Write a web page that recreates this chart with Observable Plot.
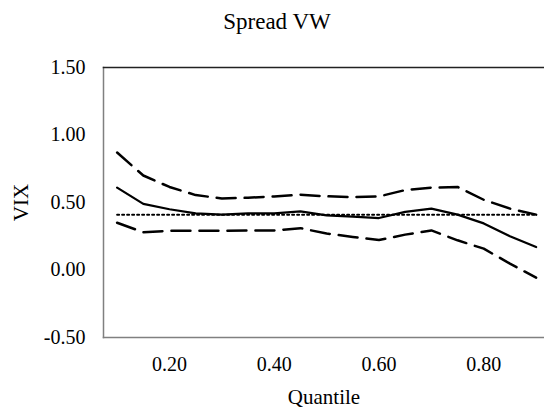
<!DOCTYPE html>
<html>
<head>
<meta charset="utf-8">
<script src="https://cdn.jsdelivr.net/npm/d3@7"></script>
<script src="https://cdn.jsdelivr.net/npm/@observablehq/plot@0.6"></script>
<style>
  html, body { margin: 0; padding: 0; background: #fff; }
  #wrap { width: 544px; height: 411px; overflow: hidden; font-family: "Liberation Serif", "Times New Roman", serif; }
  #title { box-sizing: border-box; height: 40px; padding-top: 10px; padding-left: 10px; line-height: 23px; font-size: 23px; text-align: center; color: #000; }
  svg { display: block; }
  #chart svg text { font-family: "Liberation Serif", "Times New Roman", serif; fill: #000; }
  #chart svg g[aria-label$="tick label"] { font-size: 20px; font-family: "Liberation Serif", "Times New Roman", serif; font-variant: normal; }
</style>
</head>
<body>
<div id="wrap">
  <div id="title">Spread VW</div>
  <div id="chart"></div>
</div>
<script>
const quantiles = [0.10, 0.15, 0.20, 0.25, 0.30, 0.35, 0.40, 0.45, 0.50, 0.55, 0.60, 0.65, 0.70, 0.75, 0.80, 0.85, 0.90];
const estimate  = [0.61, 0.49, 0.45, 0.42, 0.41, 0.42, 0.42, 0.435, 0.405, 0.395, 0.385, 0.43, 0.455, 0.41, 0.345, 0.25, 0.17];
const upperBand = [0.87, 0.70, 0.615, 0.555, 0.53, 0.535, 0.545, 0.557, 0.546, 0.54, 0.545, 0.592, 0.61, 0.615, 0.52, 0.455, 0.41];
const lowerBand = [0.35, 0.28, 0.29, 0.29, 0.29, 0.293, 0.293, 0.31, 0.27, 0.245, 0.222, 0.262, 0.293, 0.22, 0.158, 0.047, -0.057];
const olsValue  = [0.41, 0.41, 0.41, 0.41, 0.41, 0.41, 0.41, 0.41, 0.41, 0.41, 0.41, 0.41, 0.41, 0.41, 0.41, 0.41, 0.41];
const xTicks = [0.20, 0.40, 0.60, 0.80];
const yTicks = [-0.50, 0.00, 0.50, 1.00, 1.50];

const rows = (vals) => quantiles.map((q, i) => ({q, v: vals[i]}));
const fmt = (d) => d.toFixed(2);

const chart = Plot.plot({
  width: 544,
  height: 371,
  marginLeft: 103,
  marginRight: 0,
  marginTop: 27,
  marginBottom: 74,
  style: {fontFamily: "Liberation Serif, Times New Roman, serif", fontSize: "20px", color: "#000", background: "#fff"},
  x: {domain: [0.074, 0.916]},
  y: {domain: [-0.5, 1.5]},
  marks: [
    Plot.frame({anchor: "left", stroke: "#808080", strokeWidth: 1.5}),
    Plot.frame({anchor: "bottom", stroke: "#808080", strokeWidth: 1.5}),
    Plot.frame({anchor: "top", stroke: "#222", strokeWidth: 1.5}),
    Plot.axisX({ticks: xTicks, tickSize: 0, tickPadding: 19, tickFormat: fmt, label: null}),
    Plot.axisY({ticks: yTicks, tickSize: 0, tickPadding: 18, tickFormat: fmt, label: null}),
    Plot.text(["Quantile"], {frameAnchor: "bottom", dy: 66, fontSize: 21, textAnchor: "middle", fill: "#000"}),
    Plot.text(["VIX"], {frameAnchor: "left", dx: -82, rotate: -90, fontSize: 21, textAnchor: "middle", fill: "#000"}),
    Plot.line(rows(olsValue), {x: "q", y: "v", stroke: "#000", strokeWidth: 2, strokeDasharray: "2,3"}),
    Plot.line(rows(upperBand), {x: "q", y: "v", stroke: "#000", strokeWidth: 2.5, strokeDasharray: "19,9"}),
    Plot.line(rows(lowerBand), {x: "q", y: "v", stroke: "#000", strokeWidth: 2.5, strokeDasharray: "19,9"}),
    Plot.line(rows(estimate), {x: "q", y: "v", stroke: "#000", strokeWidth: 2.25})
  ]
});
document.getElementById("chart").appendChild(chart);
</script>
</body>
</html>
